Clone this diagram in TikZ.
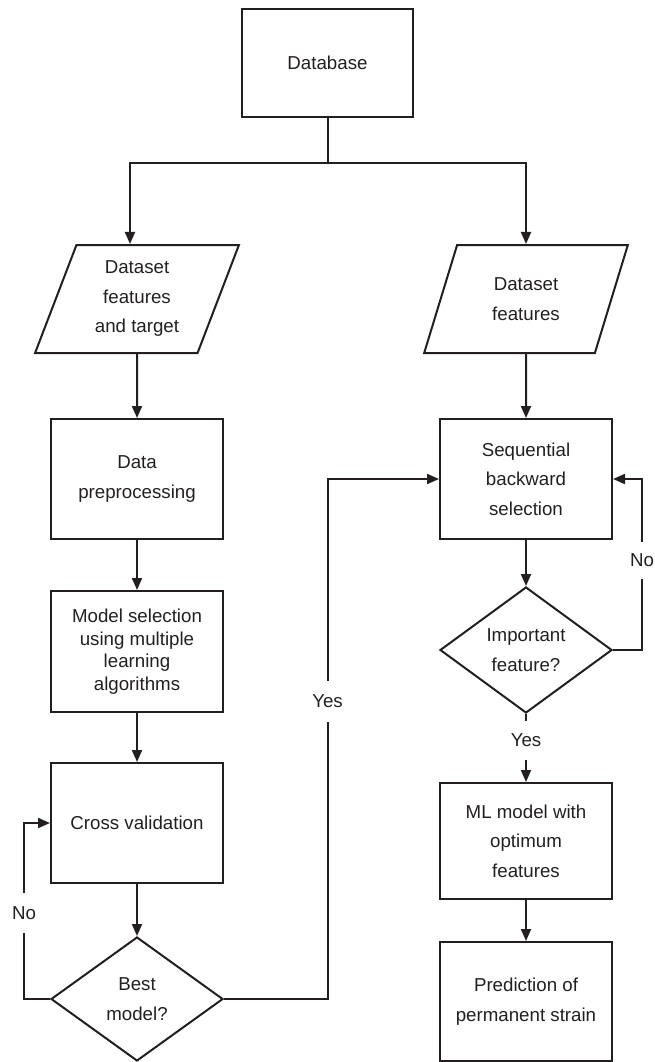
\documentclass[tikz,border=0pt]{standalone}
\usepackage{fontspec}
\setmainfont{Liberation Sans}
\usetikzlibrary{arrows.meta,shapes.geometric}
\definecolor{ink}{HTML}{231F20}
\begin{document}
\begin{tikzpicture}[x=1pt,y=-1pt,
  every node/.style={font=\fontsize{18.7}{29.5}\selectfont, text=ink, align=center, inner sep=0pt},
  box/.style={draw=ink, line width=2pt, rectangle, minimum width=172pt, minimum height=120pt},
  para/.style={draw=ink, line width=2pt, trapezium, trapezium left angle=69.2, trapezium right angle=110.8, trapezium stretches=true, minimum width=204pt, minimum height=108pt},
  dia/.style={draw=ink, line width=2pt, diamond, minimum width=172pt, minimum height=126pt},
  arr/.style={draw=ink, line width=2pt, -{Triangle[length=12pt,width=10pt]}},
  ln/.style={draw=ink, line width=2pt},
  lbl/.style={minimum width=10pt}
]
\useasboundingbox (0,0) rectangle (654,1062);

% nodes
\node[box, minimum width=171pt, minimum height=108pt] (db) at (327.5,63) {Database};
\node[para] (dsl) at (137,299) {Dataset\\features\\and target};
\node[para] (dsr) at (526,299) {Dataset\\features};
\node[box] (pre) at (137,479) {Data\\preprocessing};
\node[box, minimum height=121pt, font=\fontsize{18.7}{22.5}\selectfont] (msel) at (137,651.5) {Model selection\\using multiple\\learning\\algorithms};
\node[box] (cv) at (137,823) {Cross validation};
\node[dia, minimum height=124pt] (best) at (137,999) {Best\\model?};
\node[box] (sbs) at (526,479) {Sequential\\backward\\selection};
\node[dia] (imp) at (526,650) {Important\\feature?};
\node[box, minimum height=116pt] (ml) at (526,841) {ML model with\\optimum\\features};
\node[box, minimum height=119pt] (pred) at (526,1001.5) {Prediction of\\permanent strain};

% labels
\node[lbl, minimum height=41pt] (yesl) at (327.5,701.5) {Yes};
\node[lbl, minimum height=39pt] (yesr) at (526,740.5) {Yes};
\node[lbl, minimum height=37pt] (nor) at (642,560.5) {No};
\node[lbl, minimum height=40pt] (nol) at (24,913) {No};

% connectors
\coordinate (jl) at (130,163);
\coordinate (jr) at (526,163);
\draw[arr] (db.south) |- (jl) -- (jl |- dsl.north);
\draw[arr] (db.south) |- (jr) -- (jr |- dsr.north);
\draw[arr] (dsl.south) -- (pre.north);
\draw[arr] (dsr.south) -- (sbs.north);
\draw[arr] (pre.south) -- (msel.north);
\draw[arr] (msel.south) -- (cv.north);
\draw[arr] (cv.south) -- (best.north);
\draw[arr] (sbs.south) -- (imp.north);
\draw[arr] (ml.south) -- (pred.north);

\draw[ln] (best.east) -| (yesl.south);
\draw[arr] (yesl.north) |- (sbs.west);
\draw[ln] (imp.east) -| (nor.south);
\draw[arr] (nor.north) |- (sbs.east);
\draw[ln] (best.west) -| (nol.south);
\draw[arr] (nol.north) |- (cv.west);
\draw[ln] (imp.south) -- (yesr.north);
\draw[arr] (yesr.south) -- (ml.north);
\end{tikzpicture}
\end{document}
